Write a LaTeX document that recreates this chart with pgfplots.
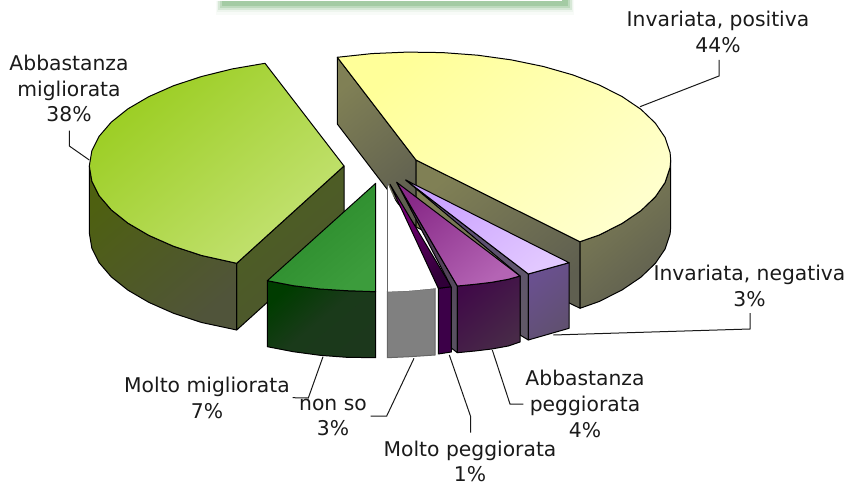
\documentclass[border=0pt]{standalone}
\usepackage{pgfplots}
\pgfplotsset{compat=1.18}
\usepackage{fontspec}
\setmainfont{DejaVu Sans}
\definecolor{t1}{HTML}{1a1a1a}
\newcommand\dc[1]{\definecolor{#1}{HTML}{#1}}
\dc{808055}\dc{5f5f50}\dc{ffff99}\dc{ffffcc}\dc{4e6020}\dc{4c5530}\dc{4e6010}\dc{50543a}\dc{9acd20}\dc{c4e274}
\dc{003c00}\dc{1c381c}\dc{1a3a1a}\dc{288828}\dc{3c9c3c}\dc{3c0048}\dc{800080}\dc{300038}\dc{5a4878}\dc{605868}\dc{6a5090}
\dc{605070}\dc{c9a0ff}\dc{e2c8ff}\dc{4a3050}\dc{585060}\dc{400a48}\dc{482a48}\dc{882a88}\dc{b464b4}
\dc{F8FBF8}\dc{EEF5EE}\dc{D7E8D7}\dc{BEDABE}\dc{A4CBA4}
\pgfplotsset{
 face/.style 2 args={draw=black,line width=1pt,line join=round,left color=#1,right color=#2,shading angle=40},
 lead/.style={draw=black!90,line width=1pt},
 sh/.style={draw=none,fill=#1}
}
\begin{document}
\begin{tikzpicture}
\begin{axis}[scale only axis,width=846pt,height=484pt,xmin=0,xmax=846,ymin=0,ymax=484,y dir=reverse,hide axis,no markers,clip=true]
% banner shadow
\addplot[sh=F8FBF8] coordinates {(216,0)(574,0)(574,15)(216,15)} -- cycle;
\addplot[sh=EEF5EE] coordinates {(217,0)(573,0)(573,12)(217,12)} -- cycle;
\addplot[sh=D7E8D7] coordinates {(218,0)(572,0)(572,10)(218,10)} -- cycle;
\addplot[sh=BEDABE] coordinates {(220,0)(570,0)(570,8)(220,8)} -- cycle;
\addplot[sh=A4CBA4] coordinates {(222,0)(568,0)(568,6)(222,6)} -- cycle;
\addplot[sh=white] coordinates {(216,0)(562,0)(562,1.5)(216,1.5)} -- cycle;
% yellow slice
\addplot[face={808055}{5f5f50}] coordinates {(337.3,57.3)(416,160)(416,227)(337.3,124)} -- cycle;
\addplot[face={808055}{5f5f50}] coordinates {(416,160)(580,241.7)(580,308.3)(416,227)} -- cycle;
\addplot[face={808055}{5f5f50}] coordinates {(670.7,160)(670.1,167.5)(665.1,182.5)(655.3,196.9)(640.9,210.7)(622,223.5)(599.2,235)(580,241.7)(580,308.3)(599.2,301.5)(622,290)(640.9,277.2)(655.3,263.4)(665.1,249)(670.1,234)(670.7,227)} -- cycle;
\addplot[face={ffff99}{ffffcc}] coordinates {(337.3,57.3)(371.8,53.6)(407.1,52.1)(442.6,52.6)(477.6,55.2)(511.4,59.9)(543.4,66.5)(572.8,74.9)(599.2,85)(622,96.5)(640.9,109.3)(655.3,123.1)(665.1,137.5)(670.1,152.5)(670.7,160)(670.1,167.5)(665.1,182.5)(655.3,196.9)(640.9,210.7)(622,223.5)(599.2,235)(580,241.7)(416,160)} -- cycle;
% light green slice
\addplot[face={4e6020}{4c5530}] coordinates {(344,166)(236.7,263.3)(236.7,330)(344,233)} -- cycle;
\addplot[face={4e6010}{50543a}] coordinates {(89.3,166)(91.8,181)(99.2,195.8)(111.3,209.9)(128,223.2)(148.9,235.4)(173.6,246.3)(201.6,255.5)(236.7,263.3)(236.7,330)(201.6,322.5)(173.6,313.3)(148.9,302.4)(128,290.2)(111.3,276.9)(99.2,262.8)(91.8,248)(89.3,233)} -- cycle;
\addplot[face={9acd20}{c4e274}] coordinates {(265,63.3)(232.3,68.9)(201.6,76.5)(173.6,85.7)(148.9,96.6)(128,108.8)(111.3,122.1)(99.2,136.2)(91.8,151)(89.3,166)(91.8,181)(99.2,195.8)(111.3,209.9)(128,223.2)(148.9,235.4)(173.6,246.3)(201.6,255.5)(236.7,263.3)(344,166)} -- cycle;
% molto migliorata
\addplot[face={003c00}{1c381c},middle color=1a3a1a] coordinates {(267.3,280.7)(293.3,285.7)(320,289)(346.7,290.7)(375.7,291.7)(375.7,357.7)(346.7,357.3)(320,355.3)(293.3,351.7)(267.3,346.7)} -- cycle;
\addplot[face={288828}{3c9c3c}] coordinates {(375.7,183.3)(267.3,280.7)(293.3,285.7)(320,289)(346.7,290.7)(375.7,291.7)} -- cycle;
% non so
\addplot[draw=black!60,line width=1pt,fill=gray] coordinates {(387.3,291.7)(410,290.7)(435,288.3)(435,355)(410,356.7)(387.3,357.7)} -- cycle;
\addplot[draw=none,fill=white] coordinates {(387.3,183.3)(435,288.3)(410,290.7)(387.3,291.7)} -- cycle;
\addplot[draw=black!60,line width=1pt] coordinates {(387.3,183.3)(387.3,291.7)};
% molto peggiorata
\addplot[face={3c0048}{3c0048}] coordinates {(438.3,288.3)(451.3,286.7)(451.3,352)(438.3,354)} -- cycle;
\addplot[face={800080}{300038}] coordinates {(390,184.3)(451.3,286.7)(438.3,288.3)} -- cycle;
% invariata negativa
\addplot[face={5a4878}{605868}] coordinates {(405.7,180)(528.3,274)(528.3,340)(520,335)(520,276)} -- cycle;
\addplot[face={6a5090}{605070}] coordinates {(528.3,274)(569,262.7)(569,328.3)(528.3,340)} -- cycle;
\addplot[face={c9a0ff}{e2c8ff}] coordinates {(405.7,180)(569,262.7)(528.3,274)} -- cycle;
% abbastanza peggiorata
\addplot[face={4a3050}{585060}] coordinates {(396.7,182.3)(457.3,286)(457.3,352.7)(451.3,348)(451.3,287)} -- cycle;
\addplot[face={400a48}{482a48}] coordinates {(457.3,286)(475,284.3)(491.7,282.3)(508.3,279.3)(520,276)(520,342)(508.3,346)(491.7,349)(475,351)(457.3,352.7)} -- cycle;
\addplot[face={882a88}{b464b4}] coordinates {(396.7,182.3)(520,276)(508.3,279.3)(491.7,282.3)(475,284.3)(457.3,286)} -- cycle;
% leaders
\addplot[lead] coordinates {(719,60)(719,76)(640,106.7)};
\addplot[lead] coordinates {(750,313)(750,329)(553.3,335)};
\addplot[lead] coordinates {(69.3,130.7)(69.3,146)(89.3,160)};
\addplot[lead] coordinates {(292.7,397.7)(308.3,398)(323,356.7)};
\addplot[lead] coordinates {(370.7,416)(386.7,416)(414,358.3)};
\addplot[lead] coordinates {(470.7,432.7)(470.7,416.7)(449.3,355)};
\addplot[lead] coordinates {(523.3,404)(510,404)(492.3,350)};
% labels
\tikzset{lab/.style={text=t1,font=\fontsize{20.3}{25.7}\selectfont,align=center,inner sep=0pt}}
\node[lab] at (axis cs:718,32) {Invariata, positiva\\44\%};
\node[lab] at (axis cs:749.5,286) {Invariata, negativa\\3\%};
\node[lab] at (axis cs:69,88.5) {Abbastanza\\migliorata\\38\%};
\node[lab] at (axis cs:207,398) {Molto migliorata\\7\%};
\node[lab] at (axis cs:333,417.5) {non so\\3\%};
\node[lab] at (axis cs:470,461.5) {Molto peggiorata\\1\%};
\node[lab] at (axis cs:585,404) {Abbastanza\\peggiorata\\4\%};
\end{axis}
\pgfresetboundingbox
\path[use as bounding box] (0,0) rectangle (846pt,484pt);
\end{tikzpicture}
\end{document}
